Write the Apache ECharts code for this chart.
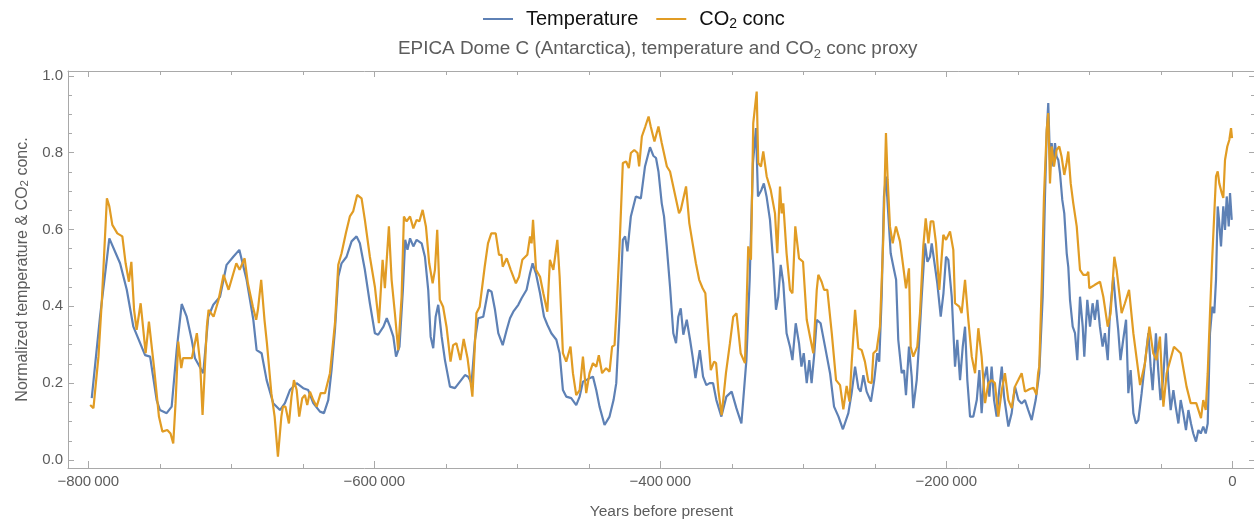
<!DOCTYPE html>
<html>
<head>
<meta charset="utf-8">
<script src="https://cdn.jsdelivr.net/npm/echarts@6/dist/echarts.min.js"></script>
<style>
  html, body { margin: 0; padding: 0; background: #ffffff; }
  #chart { width: 1254px; height: 521px; }
</style>
</head>
<body>
<div id="chart"></div>
<script>
// EPICA Dome C ice core: normalized temperature and CO2 proxies (years before present)
const tempYears = [
  -797600, -791800, -785300, -777800, -773100, -768500, -760300, -756800, -752200, -749900,
  -745200, -741700, -738200, -734700, -731200, -727700, -725400, -719600, -716100, -712600,
  -707900, -703300, -698600, -694400, -689300, -684600, -682300, -678800, -675300, -670700,
  -666000, -662500, -659000, -654300, -649700, -646200, -642700, -638000, -635200, -632200,
  -629900, -627500, -625200, -622900, -619400, -615900, -612400, -610100, -606600, -603100,
  -599600, -597300, -593600, -591300, -589000, -586700, -584800, -582400, -580000, -578400,
  -576800, -575000, -572700, -570400, -566900, -564600, -562300, -560600, -558800, -557100,
  -555300, -552900, -550600, -547100, -543600, -540100, -536600, -534300, -532000, -529600,
  -527300, -523800, -520300, -518000, -515600, -513300, -510200, -507400, -505100, -502800,
  -499300, -497000, -493500, -491100, -489300, -487000, -484100, -481300, -479000, -476200,
  -472700, -470400, -468100, -465800, -462300, -458800, -456400, -454100, -451800, -449500,
  -447100, -444800, -442500, -439000, -435500, -432700, -430800, -428500, -426200, -424600,
  -423000, -420600, -417100, -413600, -410700, -407200, -404900, -403000, -401300, -399000,
  -397400, -395500, -393200, -390900, -389000, -387400, -385700, -383900, -381500, -379200,
  -377400, -375400, -372400, -370100, -367800, -365500, -363100, -360800, -357300, -353800,
  -350100, -346800, -343300, -339800, -337500, -335200, -333100, -331700, -329300, -327600,
  -325700, -323300, -321000, -319100, -317500, -315800, -314000, -311700, -309300, -307600,
  -305300, -303000, -301300, -299700, -297600, -295800, -294200, -292500, -290600, -287900,
  -284800, -281300, -278500, -275400, -272300, -268500, -266200, -263800, -261500, -259900,
  -258000, -255700, -252700, -250400, -248300, -246900, -245200, -243600, -242200, -240600,
  -238900, -237000, -235100, -233600, -231200, -229600, -228200, -226100, -224200, -223100,
  -220700, -218900, -217200, -214900, -213200, -211400, -210200, -207900, -206300, -203900,
  -202000, -200200, -198600, -196200, -193900, -192300, -190400, -188500, -186900, -185300,
  -183400, -181100, -178700, -176900, -175300, -173700, -171700, -169900, -168300, -166600,
  -164800, -163000, -161200, -159600, -156600, -154300, -152000, -149600, -147300, -145000,
  -142700, -140300, -137500, -135000, -132600, -131000, -129800, -128700, -127500, -126300,
  -125200, -124000, -122900, -121700, -120500, -118900, -117500, -115800, -114700, -113500,
  -111600, -110000, -108400, -106500, -104600, -103500, -101400, -99500, -97700, -96100,
  -94400, -92600, -90700, -89100, -87100, -85600, -83200, -81400, -79800, -78200,
  -76300, -74300, -72700, -71100, -69200, -67400, -65700, -63400, -61100, -58700,
  -57100, -55700, -53400, -51800, -50200, -48400, -46400, -44800, -43100, -41200,
  -39600, -37700, -36100, -34300, -32400, -30700, -28900, -27300, -25400, -23700,
  -22100, -20300, -18600, -17200, -15600, -14000, -12600, -11400, -10200, -9300,
  -7900, -6300, -5100, -3900, -2500, -1600, -400
];
const tempValues = [
  0.161, 0.373, 0.577, 0.512, 0.443, 0.347, 0.273, 0.269, 0.156, 0.130,
  0.122, 0.139, 0.286, 0.406, 0.373, 0.313, 0.265, 0.226, 0.373, 0.404,
  0.425, 0.508, 0.529, 0.547, 0.469, 0.365, 0.286, 0.278, 0.208, 0.148,
  0.130, 0.148, 0.182, 0.200, 0.187, 0.182, 0.148, 0.126, 0.122, 0.156,
  0.234, 0.339, 0.477, 0.512, 0.529, 0.569, 0.582, 0.564, 0.495, 0.408,
  0.330, 0.326, 0.347, 0.369, 0.347, 0.321, 0.269, 0.295, 0.443, 0.573,
  0.547, 0.577, 0.556, 0.573, 0.564, 0.529, 0.443, 0.321, 0.291, 0.373,
  0.404, 0.321, 0.260, 0.191, 0.187, 0.204, 0.221, 0.217, 0.200, 0.313,
  0.369, 0.373, 0.443, 0.438, 0.391, 0.330, 0.299, 0.339, 0.369, 0.386,
  0.404, 0.421, 0.443, 0.486, 0.512, 0.486, 0.434, 0.373, 0.352, 0.330,
  0.313, 0.278, 0.182, 0.165, 0.161, 0.143, 0.165, 0.204, 0.208, 0.213,
  0.217, 0.182, 0.139, 0.091, 0.113, 0.156, 0.200, 0.373, 0.573, 0.582,
  0.543, 0.634, 0.686, 0.681, 0.764, 0.814, 0.792, 0.786, 0.751, 0.668,
  0.634, 0.556, 0.451, 0.330, 0.304, 0.373, 0.395, 0.326, 0.365, 0.313,
  0.269, 0.213, 0.286, 0.217, 0.195, 0.200, 0.200, 0.156, 0.113, 0.165,
  0.178, 0.135, 0.095, 0.260, 0.469, 0.773, 0.864, 0.686, 0.703, 0.720,
  0.686, 0.625, 0.512, 0.391, 0.425, 0.508, 0.460, 0.330, 0.295, 0.260,
  0.356, 0.304, 0.243, 0.278, 0.200, 0.260, 0.200, 0.269, 0.365, 0.356,
  0.295, 0.226, 0.139, 0.113, 0.080, 0.122, 0.174, 0.243, 0.187, 0.178,
  0.221, 0.178, 0.152, 0.208, 0.278, 0.256, 0.425, 0.686, 0.738, 0.642,
  0.538, 0.503, 0.469, 0.313, 0.226, 0.234, 0.169, 0.295, 0.217, 0.135,
  0.208, 0.313, 0.425, 0.564, 0.516, 0.529, 0.564, 0.503, 0.460, 0.373,
  0.434, 0.529, 0.521, 0.425, 0.243, 0.313, 0.208, 0.295, 0.347, 0.208,
  0.113, 0.113, 0.156, 0.234, 0.122, 0.208, 0.243, 0.165, 0.243, 0.156,
  0.113, 0.182, 0.243, 0.165, 0.087, 0.122, 0.191, 0.156, 0.147, 0.156,
  0.130, 0.104, 0.156, 0.226, 0.425, 0.686, 0.851, 0.929, 0.781, 0.825,
  0.764, 0.825, 0.790, 0.781, 0.747, 0.677, 0.642, 0.538, 0.503, 0.417,
  0.347, 0.330, 0.260, 0.425, 0.347, 0.269, 0.417, 0.347, 0.408, 0.365,
  0.417, 0.347, 0.295, 0.330, 0.260, 0.382, 0.477, 0.399, 0.339, 0.260,
  0.313, 0.365, 0.174, 0.234, 0.122, 0.095, 0.104, 0.174, 0.252, 0.330,
  0.243, 0.182, 0.330, 0.234, 0.156, 0.208, 0.330, 0.208, 0.130, 0.182,
  0.139, 0.095, 0.156, 0.122, 0.078, 0.130, 0.095, 0.069, 0.048, 0.078,
  0.069, 0.087, 0.069, 0.095, 0.330, 0.399, 0.382, 0.469, 0.660, 0.625,
  0.556, 0.660, 0.599, 0.686, 0.608, 0.695, 0.625
];

const co2Years = [
  -798700, -796400, -792900, -790500, -787000, -785300, -783200, -779700, -776200, -773900,
  -771600, -769900, -768000, -766200, -763400, -759900, -757600, -754100, -750600, -748200,
  -744800, -742500, -740600, -739000, -737100, -735000, -733800, -727600, -724100, -721800,
  -720100, -717100, -715900, -712400, -708900, -705400, -701900, -700600, -696500, -694200,
  -690700, -688400, -684900, -682600, -681400, -679100, -676800, -675100, -672000, -669700,
  -667400, -665000, -663900, -662100, -659700, -657900, -656200, -654300, -652500, -650400,
  -648500, -646900, -645000, -642700, -640300, -637500, -634500, -631000, -627500, -625200,
  -622900, -619900, -617100, -614800, -612000, -608900, -606600, -603100, -599600, -596800,
  -594200, -592600, -589800, -587900, -585600, -583300, -580900, -579300, -577400, -575000,
  -572700, -570400, -568500, -566200, -563900, -561600, -559200, -557600, -556000, -554200,
  -551900, -549500, -546700, -544900, -542600, -539800, -537500, -534800, -531400, -528600,
  -526300, -522800, -520500, -518200, -515100, -512800, -511100, -510200, -507400, -504600,
  -501000, -498800, -496500, -493000, -491100, -490000, -489000, -486900, -484100, -481800,
  -479000, -477200, -474800, -472000, -470400, -468100, -465800, -462800, -461100, -458800,
  -456400, -454100, -451800, -449500, -447100, -444800, -443000, -440700, -437900, -435500,
  -433700, -432000, -430600, -428500, -426200, -423900, -422000, -420600, -418200, -415900,
  -414800, -412900, -410500, -408200, -406700, -404100, -401300, -399000, -395400, -393200,
  -386900, -385700, -382000, -379700, -377400, -375100, -372800, -370400, -368500, -366300,
  -364700, -362400, -361000, -359400, -357100, -354100, -351300, -349000, -346700, -343800,
  -340800, -338500, -336600, -335000, -332600, -331500, -329600, -328000, -325600, -322800,
  -319800, -318200, -316300, -315100, -314000, -311700, -309300, -307600, -305600, -303000,
  -300200, -297600, -295300, -293000, -290600, -289500, -287200, -285500, -283200, -280100,
  -277100, -274300, -272000, -269700, -267700, -266200, -263800, -261500, -259200, -256900,
  -254500, -252200, -251000, -248700, -246400, -244100, -242200, -241000, -239400, -237500,
  -235200, -232400, -230100, -228200, -226100, -224900, -223100, -220300, -218400, -216100,
  -214400, -212500, -210900, -209100, -207200, -204900, -202100, -200200, -197400, -195100,
  -193900, -190900, -189300, -186900, -184600, -182200, -179900, -177600, -175300, -172900,
  -170600, -168300, -166000, -163600, -161200, -159000, -156600, -154300, -152000, -149700,
  -147300, -145000, -141600, -139000, -137000, -135800, -135000, -133300, -131700, -129800,
  -128700, -127500, -126300, -124700, -122900, -121000, -119400, -117500, -115900, -114700,
  -113000, -111200, -108800, -106500, -104200, -101800, -100700, -100000, -96100, -92500,
  -90200, -87100, -85100, -82500, -80900, -77400, -75100, -72200, -69200, -64500,
  -61100, -58000, -55300, -53000, -50600, -48200, -45900, -40800, -36100, -32000,
  -29100, -25200, -21900, -20300, -18600, -17200, -15600, -14000, -12800, -11400,
  -10200, -9100, -7400, -6300, -5100, -3500, -2100, -900, -200
];
const co2Values = [
  0.143, 0.135, 0.269, 0.417, 0.681, 0.660, 0.612, 0.590, 0.582, 0.512,
  0.464, 0.516, 0.391, 0.339, 0.408, 0.278, 0.360, 0.243, 0.113, 0.074,
  0.078, 0.069, 0.043, 0.148, 0.308, 0.239, 0.265, 0.265, 0.330, 0.252,
  0.117, 0.347, 0.391, 0.373, 0.417, 0.482, 0.443, 0.439, 0.512, 0.495,
  0.525, 0.460, 0.399, 0.365, 0.391, 0.469, 0.365, 0.304, 0.174, 0.113,
  0.009, 0.113, 0.139, 0.139, 0.095, 0.165, 0.208, 0.182, 0.113, 0.161,
  0.169, 0.143, 0.178, 0.156, 0.139, 0.174, 0.174, 0.226, 0.356, 0.508,
  0.538, 0.590, 0.634, 0.647, 0.690, 0.681, 0.625, 0.529, 0.451, 0.356,
  0.521, 0.447, 0.608, 0.469, 0.382, 0.286, 0.425, 0.634, 0.621, 0.634,
  0.603, 0.625, 0.621, 0.651, 0.608, 0.512, 0.460, 0.495, 0.599, 0.417,
  0.399, 0.347, 0.256, 0.299, 0.304, 0.260, 0.315, 0.265, 0.165, 0.382,
  0.399, 0.503, 0.564, 0.590, 0.590, 0.534, 0.534, 0.503, 0.525, 0.495,
  0.460, 0.477, 0.521, 0.534, 0.582, 0.564, 0.625, 0.495, 0.477, 0.434,
  0.386, 0.521, 0.495, 0.573, 0.477, 0.278, 0.256, 0.295, 0.226, 0.169,
  0.182, 0.269, 0.174, 0.226, 0.252, 0.243, 0.273, 0.226, 0.239, 0.230,
  0.295, 0.299, 0.391, 0.556, 0.773, 0.777, 0.760, 0.799, 0.807, 0.799,
  0.764, 0.842, 0.868, 0.894, 0.868, 0.829, 0.868, 0.825, 0.764, 0.751,
  0.642, 0.651, 0.712, 0.616, 0.564, 0.512, 0.469, 0.447, 0.434, 0.313,
  0.234, 0.256, 0.252, 0.182, 0.117, 0.226, 0.304, 0.373, 0.382, 0.278,
  0.252, 0.556, 0.521, 0.877, 0.959, 0.773, 0.764, 0.803, 0.738, 0.703,
  0.642, 0.538, 0.712, 0.642, 0.668, 0.538, 0.443, 0.434, 0.608, 0.525,
  0.516, 0.365, 0.321, 0.278, 0.443, 0.482, 0.464, 0.443, 0.443, 0.330,
  0.208, 0.195, 0.132, 0.193, 0.152, 0.252, 0.391, 0.291, 0.286, 0.256,
  0.204, 0.200, 0.278, 0.286, 0.347, 0.573, 0.851, 0.729, 0.608, 0.564,
  0.608, 0.569, 0.503, 0.447, 0.499, 0.295, 0.269, 0.295, 0.382, 0.556,
  0.629, 0.564, 0.621, 0.621, 0.564, 0.443, 0.586, 0.573, 0.595, 0.547,
  0.408, 0.399, 0.382, 0.469, 0.365, 0.269, 0.226, 0.343, 0.269, 0.148,
  0.200, 0.208, 0.200, 0.113, 0.182, 0.226, 0.156, 0.135, 0.191, 0.208,
  0.226, 0.178, 0.185, 0.188, 0.170, 0.226, 0.243, 0.451, 0.686, 0.859,
  0.903, 0.720, 0.816, 0.764, 0.807, 0.816, 0.790, 0.742, 0.773, 0.803,
  0.720, 0.668, 0.608, 0.495, 0.482, 0.482, 0.490, 0.447, 0.456, 0.464,
  0.425, 0.347, 0.382, 0.529, 0.495, 0.382, 0.408, 0.443, 0.330, 0.195,
  0.252, 0.347, 0.278, 0.260, 0.321, 0.139, 0.226, 0.295, 0.278, 0.191,
  0.148, 0.148, 0.109, 0.156, 0.130, 0.226, 0.382, 0.529, 0.529, 0.738,
  0.751, 0.720, 0.695, 0.682, 0.781, 0.816, 0.833, 0.864, 0.838
];

// Tick positions on the frame
const xMajorTicks = [-800000, -600000, -400000, -200000, 0];
const xMinorTicks = [-750000, -700000, -650000, -550000, -500000, -450000,
                     -350000, -300000, -250000, -150000, -100000, -50000];
const yMajorTicks = [0, 0.2, 0.4, 0.6, 0.8, 1.0];
const yMinorTicks = [0.05, 0.1, 0.15, 0.25, 0.3, 0.35, 0.45, 0.5, 0.55,
                     0.65, 0.7, 0.75, 0.85, 0.9, 0.95];

// Plot range (frame padding around the data range)
const X_MIN = -814200, X_MAX = 15870;
const Y_MIN = -0.0208, Y_MAX = 1.0125;

const FONT = '"Liberation Sans", Arial, Helvetica, sans-serif';
const FRAME = '#a9a9a9';
const LABEL = '#5c5c5c';
const BLUE = '#5e81b5';
const ORANGE = '#e19c24';

function zip(xs, ys) { return xs.map((x, i) => [x, ys[i]]); }

function fmtYear(v) {
  if (v === 0) return '0';
  const a = Math.abs(v);
  const s = String(a);
  const grouped = s.length > 3 ? s.slice(0, s.length - 3) + '\u2009' + s.slice(-3) : s;
  return (v < 0 ? '\u2212' : '') + grouped;
}

function frameAxis(kind, position, ticks, len, opts) {
  const base = {
    type: 'value', position: position,
    min: kind === 'x' ? X_MIN : Y_MIN,
    max: kind === 'x' ? X_MAX : Y_MAX,
    axisLine: { show: false, onZero: false },
    axisTick: { show: true, inside: true, length: len, customValues: ticks,
                lineStyle: { color: FRAME, width: 1 } },
    axisLabel: { show: false },
    splitLine: { show: false }, minorTick: { show: false }
  };
  return Object.assign(base, opts || {});
}
const frameLine = { show: true, onZero: false, lineStyle: { color: FRAME, width: 1 } };

const chart = echarts.init(document.getElementById('chart'), null, { renderer: 'canvas' });

chart.setOption({
  animation: false,
  backgroundColor: '#ffffff',
  title: {
    text: 'EPICA Dome C (Antarctica), temperature and CO{sub|2} conc proxy',
    left: 393, top: 32,
    textStyle: {
      fontFamily: FONT, fontSize: 18.9, fontWeight: 'normal', color: LABEL, lineHeight: 24,
      rich: { sub: { fontFamily: FONT, fontSize: 13, color: LABEL, verticalAlign: 'bottom', lineHeight: 12 } }
    }
  },
  legend: {
    data: ['Temperature', 'CO2 conc'],
    left: 478, top: 2,
    icon: 'rect',
    itemWidth: 30, itemHeight: 2, itemGap: 18,
    formatter: name => name === 'CO2 conc' ? 'CO{sub|2} conc' : name,
    textStyle: {
      fontFamily: FONT, fontSize: 20, color: '#111111', lineHeight: 24, padding: [0, 0, 0, 8],
      rich: { sub: { fontFamily: FONT, fontSize: 14, color: '#111111', verticalAlign: 'bottom', lineHeight: 14 } }
    }
  },
  grid: { left: 68, top: 71, width: 1187, height: 397, outerBoundsMode: 'none' },
  xAxis: [
    frameAxis('x', 'bottom', xMajorTicks, 7, {
      axisLine: frameLine,
      axisLabel: { show: true, customValues: xMajorTicks, formatter: fmtYear,
                   fontFamily: FONT, fontSize: 15, color: LABEL, margin: 6 },
      name: 'Years before present', nameLocation: 'middle', nameGap: 36,
      nameTextStyle: { fontFamily: FONT, fontSize: 15.5, color: LABEL }
    }),
    frameAxis('x', 'bottom', xMinorTicks, 4),
    frameAxis('x', 'top', xMajorTicks, 6, { axisLine: frameLine }),
    frameAxis('x', 'top', xMinorTicks, 4)
  ],
  yAxis: [
    frameAxis('y', 'left', yMajorTicks, 6, {
      axisLine: frameLine,
      axisLabel: { show: true, customValues: yMajorTicks, formatter: v => v.toFixed(1),
                   fontFamily: FONT, fontSize: 15, color: LABEL, margin: 5 },
      name: 'Normalized temperature & CO{sub|2} conc.', nameLocation: 'middle', nameGap: 35,
      nameTextStyle: {
        fontFamily: FONT, fontSize: 16, color: LABEL, lineHeight: 18,
        rich: { sub: { fontFamily: FONT, fontSize: 11.5, color: LABEL, verticalAlign: 'bottom', lineHeight: 10 } }
      }
    }),
    frameAxis('y', 'left', yMinorTicks, 4),
    frameAxis('y', 'right', yMajorTicks, 6, { axisLine: frameLine }),
    frameAxis('y', 'right', yMinorTicks, 4)
  ],
  series: [
    {
      name: 'Temperature', type: 'line', xAxisIndex: 0, yAxisIndex: 0,
      data: zip(tempYears, tempValues),
      showSymbol: false, symbol: 'none', clip: true,
      lineStyle: { color: BLUE, width: 2.2 }, itemStyle: { color: BLUE }
    },
    {
      name: 'CO2 conc', type: 'line', xAxisIndex: 0, yAxisIndex: 0,
      data: zip(co2Years, co2Values),
      showSymbol: false, symbol: 'none', clip: true,
      lineStyle: { color: ORANGE, width: 2.2 }, itemStyle: { color: ORANGE }
    }
  ]
});
</script>
</body>
</html>
